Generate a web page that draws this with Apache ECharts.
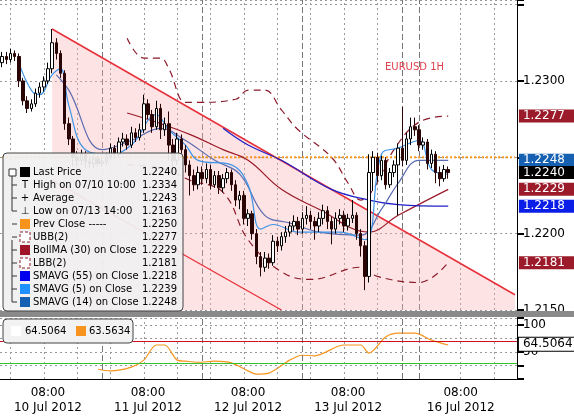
<!DOCTYPE html>
<html>
<head>
<meta charset="utf-8">
<script src="https://cdn.jsdelivr.net/npm/echarts@6/dist/echarts.min.js"></script>
<style>
  html, body { margin: 0; padding: 0; background: #fff; }
  #main { width: 574px; height: 420px; }
</style>
</head>
<body>
<div id="main"></div>
<script>
// hourly EURUSD candles [open, close, low, high]
const candles = [
  [1.2312,1.2316,1.2309,1.2319],[1.2316,1.2314,1.2311,1.2319],[1.2314,1.2318,1.2312,1.2321],[1.2318,1.2316,1.2313,1.2320],
  [1.2316,1.2300,1.2296,1.2318],[1.2300,1.2287,1.2284,1.2302],[1.2287,1.2282,1.2279,1.2290],[1.2282,1.2285,1.2280,1.2288],
  [1.2285,1.2292,1.2283,1.2295],[1.2292,1.2296,1.2289,1.2299],[1.2296,1.2300,1.2293,1.2303],[1.2300,1.2308,1.2298,1.2312],
  [1.2308,1.2325,1.2305,1.2334],[1.2325,1.2318,1.2314,1.2328],[1.2318,1.2305,1.2302,1.2320],[1.2305,1.2272,1.2268,1.2307],
  [1.2272,1.2262,1.2258,1.2276],[1.2262,1.2250,1.2244,1.2264],[1.2250,1.2248,1.2244,1.2254],[1.2248,1.2252,1.2245,1.2255],
  [1.2252,1.2247,1.2243,1.2254],[1.2247,1.2246,1.2243,1.2250],[1.2246,1.2249,1.2243,1.2252],[1.2249,1.2246,1.2244,1.2251],
  [1.2246,1.2247,1.2244,1.2250],[1.2247,1.2250,1.2245,1.2253],[1.2250,1.2256,1.2248,1.2259],[1.2256,1.2252,1.2249,1.2258],
  [1.2252,1.2260,1.2250,1.2263],[1.2260,1.2262,1.2257,1.2266],[1.2262,1.2258,1.2255,1.2265],[1.2258,1.2266,1.2256,1.2270],
  [1.2266,1.2263,1.2260,1.2269],[1.2263,1.2268,1.2261,1.2272],[1.2268,1.2285,1.2266,1.2291],[1.2285,1.2278,1.2275,1.2288],
  [1.2278,1.2270,1.2266,1.2281],[1.2270,1.2282,1.2268,1.2287],[1.2282,1.2268,1.2262,1.2285],[1.2268,1.2272,1.2264,1.2276],
  [1.2272,1.2258,1.2248,1.2280],[1.2258,1.2248,1.2240,1.2262],[1.2248,1.2262,1.2245,1.2266],[1.2262,1.2255,1.2250,1.2265],
  [1.2255,1.2245,1.2240,1.2258],[1.2245,1.2238,1.2225,1.2248],[1.2238,1.2232,1.2228,1.2242],[1.2232,1.2240,1.2229,1.2244],
  [1.2240,1.2236,1.2232,1.2244],[1.2236,1.2242,1.2233,1.2246],[1.2242,1.2232,1.2229,1.2245],[1.2232,1.2238,1.2230,1.2241],
  [1.2238,1.2230,1.2226,1.2241],[1.2230,1.2236,1.2227,1.2239],[1.2236,1.2240,1.2233,1.2243],[1.2240,1.2232,1.2228,1.2242],
  [1.2232,1.2222,1.2218,1.2235],[1.2222,1.2225,1.2216,1.2228],[1.2225,1.2210,1.2206,1.2228],[1.2210,1.2213,1.2205,1.2216],
  [1.2213,1.2200,1.2196,1.2215],[1.2200,1.2185,1.2180,1.2203],[1.2185,1.2178,1.2172,1.2188],[1.2178,1.2184,1.2175,1.2188],
  [1.2184,1.2181,1.2177,1.2187],[1.2181,1.2195,1.2179,1.2199],[1.2195,1.2192,1.2188,1.2198],[1.2192,1.2198,1.2189,1.2201],
  [1.2198,1.2201,1.2194,1.2205],[1.2201,1.2205,1.2198,1.2208],[1.2205,1.2208,1.2202,1.2212],[1.2208,1.2203,1.2199,1.2211],
  [1.2203,1.2210,1.2200,1.2214],[1.2210,1.2212,1.2206,1.2218],[1.2212,1.2208,1.2203,1.2215],[1.2208,1.2205,1.2196,1.2211],
  [1.2205,1.2210,1.2201,1.2214],[1.2210,1.2215,1.2206,1.2219],[1.2215,1.2208,1.2203,1.2218],[1.2208,1.2203,1.2193,1.2211],
  [1.2203,1.2210,1.2200,1.2214],[1.2210,1.2212,1.2206,1.2216],[1.2212,1.2205,1.2201,1.2215],[1.2205,1.2210,1.2202,1.2213],
  [1.2210,1.2212,1.2207,1.2222],[1.2212,1.2200,1.2196,1.2214],[1.2200,1.2192,1.2185,1.2203],[1.2192,1.2172,1.2163,1.2195],
  [1.2172,1.2240,1.2168,1.2252],[1.2240,1.2250,1.2228,1.2254],[1.2250,1.2238,1.2234,1.2253],[1.2238,1.2248,1.2235,1.2251],
  [1.2248,1.2232,1.2229,1.2250],[1.2232,1.2240,1.2230,1.2243],[1.2240,1.2245,1.2237,1.2248],[1.2245,1.2256,1.2212,1.2259],
  [1.2256,1.2248,1.2244,1.2283],[1.2248,1.2262,1.2245,1.2266],[1.2262,1.2270,1.2258,1.2276],[1.2270,1.2268,1.2264,1.2276],
  [1.2268,1.2258,1.2254,1.2271],[1.2258,1.2260,1.2255,1.2263],[1.2260,1.2246,1.2242,1.2262],[1.2246,1.2252,1.2243,1.2255],
  [1.2252,1.2240,1.2233,1.2254],[1.2240,1.2236,1.2231,1.2244],[1.2236,1.2242,1.2234,1.2245],[1.2242,1.2240,1.2236,1.2244]
];
const slotCount = 124;
const categories = Array.from({ length: slotCount }, (_, i) => String(i));

// indicators as [slot, value]
const sma5 = [[4,1.2312],[7,1.2294],[9,1.2291],[12,1.2304],[14,1.2308],[16,1.2284],[20,1.2255],[26,1.2252],[31,1.2258],
  [37,1.2278],[40,1.2268],[44,1.2258],[47,1.2248],[55,1.2245],[59,1.2232],[62,1.2203],[65,1.2206],[71,1.2201],[81,1.2201],
  [87,1.2196],[91,1.2252],[95,1.2256],[100,1.2261],[103,1.2242],[107,1.2239]];
const sma14 = [[13,1.2304],[16,1.2294],[24,1.2255],[31,1.2261],[38,1.2269],[44,1.2261],[51,1.2248],[57,1.2239],[63,1.2212],
  [69,1.2207],[76,1.2201],[86,1.2199],[91,1.2216],[95,1.2233],[100,1.2248],[107,1.2248]];
const sma55 = [[53,1.2269],[59,1.2258],[67,1.2248],[79,1.2229],[88,1.2222],[95,1.2219],[107,1.2218]];
const bollMA = [[30,1.2279],[37,1.2273],[45,1.2265],[53,1.2255],[59,1.2248],[67,1.2229],[76,1.2216],[88,1.2201],[95,1.2212],[107,1.2229]];
const ubb = [[30,1.2328],[34,1.2315],[38,1.2315],[40,1.2308],[44,1.2286],[47,1.2286],[56,1.2288],[59,1.2294],[63,1.2294],
  [67,1.2281],[71,1.2268],[79,1.2250],[83,1.2233],[86,1.2222],[89,1.2229],[94,1.2255],[100,1.2273],[107,1.2277]];
const lbb = [[30,1.2245],[38,1.2243],[45,1.2235],[53,1.2227],[59,1.2196],[67,1.2175],[74,1.2170],[86,1.2178],[90,1.2172],
  [100,1.2168],[107,1.2181]];
const channelUpper = [[12,1.2334],[123,1.2160]];
const channelLower = [[12,1.2235],[67,1.2150]];
const rsi = [[23,18],[26,15],[31,22],[34,35],[37,63],[39,63],[42,35],[44,33],[47,31],[51,33],[55,30],[59,15],[61,9],[64,11],
  [69,35],[72,44],[75,43],[82,63],[86,63],[88,48],[92,78],[95,85],[99,85],[103,72],[107,63]];
const prevClose = 1.2250;
const tags = [
  { v: 1.2277, bg: '#9b1b2a', fg: '#fff' },
  { v: 1.2248, bg: '#1560b0', fg: '#fff' },
  { v: 1.2240, bg: '#000', fg: '#fff' },
  { v: 1.2229, bg: '#9b1b2a', fg: '#fff' },
  { v: 1.2218, bg: '#0a1ee8', fg: '#fff' },
  { v: 1.2181, bg: '#9b1b2a', fg: '#fff' }
];
const rsiTag = 64.5064;
const priceLabels = ['1.2300', '1.2200', '1.2150'];
const dateLabelSlots = [11, 35, 59, 83, 110];
const dateLabels = ['08:00\n10 Jul 2012', '08:00\n11 Jul 2012', '08:00\n12 Jul 2012', '08:00\n13 Jul 2012', '08:00\n16 Jul 2012'];
const daySlots = [24, 48, 72, 96, 100];
const gridSlots = [2, 10, 18, 26, 34, 42, 50, 58, 66, 74, 82, 90, 110, 118];
const legendRows = [
  ['Last Price', '1.2240'], ['High on 07/10 10:00', '1.2334'], ['Average', '1.2243'], ['Low on 07/13 14:00', '1.2163'],
  ['Prev Close -----', '1.2250'], ['UBB(2)', '1.2277'], ['BollMA (30) on Close', '1.2229'], ['LBB(2)', '1.2181'],
  ['SMAVG (55) on Close', '1.2218'], ['SMAVG (5) on Close', '1.2239'], ['SMAVG (14) on Close', '1.2248']
];
const legendColors = ['#000', null, null, null, '#f7941d', 'dash', '#a0142a', 'dash', '#0000ee', '#1e90ff', '#1560b0'];

const FONT = 'DejaVu Sans';
const chart = echarts.init(document.getElementById('main'));

const vLines = gridSlots.map(s => ({ xAxis: String(s), lineStyle: { color: '#999', type: [2, 3], width: 1 } }))
  .concat(daySlots.map(s => ({ xAxis: String(s), lineStyle: { color: '#777', type: [6, 3], width: 1 } })));

function ind(name, data, color, dashed) {
  return {
    name, type: 'line', data, smooth: 0.4, showSymbol: false, silent: true, z: 3,
    lineStyle: { color, width: 1.2, type: dashed ? [7, 5] : 'solid' }
  };
}

// right-edge value tag drawn as end label of an invisible line at the last slot
function tagSeries(v, bg, fg, axisIdx, border) {
  return {
    type: 'line', xAxisIndex: axisIdx, yAxisIndex: axisIdx, data: [[slotCount - 1, v]], showSymbol: false, silent: true,
    z: 20, lineStyle: { opacity: 0 },
    endLabel: { show: true, distance: 4, formatter: axisIdx ? v.toFixed(4) : v.toFixed(4), color: fg, backgroundColor: bg,
      fontSize: 12, fontFamily: FONT, padding: [1, 14, 0, 4], borderColor: border || bg, borderWidth: border ? 1 : 0 }
  };
}

const legendGraphics = [
  { type: 'rect', shape: { x: 3, y: 153, width: 180, height: 158, r: 4 },
    style: { fill: 'rgba(240,240,240,0.93)', stroke: '#444', lineWidth: 1 }, z: 100 },
  { type: 'line', shape: { x1: 12, y1: 176, x2: 12, y2: 211 }, style: { stroke: '#333' }, z: 101 },
  { type: 'line', shape: { x1: 12, y1: 240, x2: 12, y2: 302 }, style: { stroke: '#333' }, z: 101 },
  { type: 'rect', shape: { x: 9, y: 169, width: 7, height: 7 }, style: { fill: '#fff', stroke: '#333' }, z: 102 }
];
legendRows.forEach((r, i) => {
  const y = 172 + i * 13;
  const c = legendColors[i];
  if (c === 'dash') {
    legendGraphics.push({ type: 'rect', shape: { x: 20, y: y - 5, width: 10, height: 10 },
      style: { fill: '#fff', stroke: '#8b1a2a', lineDash: [3, 2] }, z: 101 });
  } else if (c) {
    legendGraphics.push({ type: 'rect', shape: { x: 20, y: y - 5, width: 10, height: 10 }, style: { fill: c }, z: 101 });
  } else {
    legendGraphics.push({ type: 'text', x: 25, y: y, style: { text: ['T', '+', '⊥'][i - 1], font: '10px ' + FONT,
      fill: '#000', align: 'center', verticalAlign: 'middle' }, z: 101 });
  }
  if (i > 0) legendGraphics.push({ type: 'line', shape: { x1: 12, y1: y, x2: 17, y2: y }, style: { stroke: '#333' }, z: 101 });
  legendGraphics.push({ type: 'text', x: 33, y: y, style: { text: r[0], font: '10px ' + FONT, fill: '#000', verticalAlign: 'middle' }, z: 101 });
  legendGraphics.push({ type: 'text', x: 177, y: y, style: { text: r[1], font: '10px ' + FONT, fill: '#000',
    align: 'right', verticalAlign: 'middle' }, z: 101 });
});
legendGraphics.push(
  { type: 'rect', shape: { x: 3, y: 319, width: 130, height: 24, r: 4 }, style: { fill: '#f2f2f2', stroke: '#444' }, z: 100 },
  { type: 'rect', shape: { x: 11, y: 326, width: 10, height: 10 }, style: { fill: '#fff' }, z: 101 },
  { type: 'text', x: 25, y: 331, style: { text: '64.5064', font: '10px ' + FONT, fill: '#000', verticalAlign: 'middle' }, z: 101 },
  { type: 'rect', shape: { x: 76, y: 326, width: 10, height: 10 }, style: { fill: '#f7941d' }, z: 101 },
  { type: 'text', x: 89, y: 331, style: { text: '63.5634', font: '10px ' + FONT, fill: '#000', verticalAlign: 'middle' }, z: 101 },
  { type: 'rect', shape: { x: 0, y: 311, width: 574, height: 6 }, style: { fill: '#8a8a8a' }, z: 50 },
  { type: 'text', x: 385, y: 62, style: { text: 'EURUSD 1H', font: '10px ' + FONT, fill: '#e0404f' }, z: 20 }
);

chart.setOption({
  animation: false,
  backgroundColor: '#fff',
  textStyle: { fontFamily: FONT },
  graphic: legendGraphics,
  grid: [
    { left: 0, top: 0, width: 517, height: 310 },
    { left: 0, top: 318, width: 517, height: 61 }
  ],
  xAxis: [
    { type: 'category', gridIndex: 0, data: categories, boundaryGap: true, show: false },
    { type: 'category', gridIndex: 1, data: categories, boundaryGap: true, position: 'bottom',
      axisLine: { lineStyle: { color: '#000' } },
      axisTick: { alignWithLabel: true, length: 40, interval: i => daySlots.includes(i), lineStyle: { color: '#000' } },
      axisLabel: { interval: i => dateLabelSlots.includes(i), color: '#000', fontSize: 12, lineHeight: 15, margin: 6,
        formatter: (v, i) => dateLabels[dateLabelSlots.indexOf(i)] || '' } },
    { type: 'category', gridIndex: 1, data: categories, boundaryGap: true, position: 'bottom',
      axisLine: { show: false }, axisLabel: { show: false },
      axisTick: { alignWithLabel: true, length: 5, interval: i => i % 4 === 2, lineStyle: { color: '#000' } } }
  ],
  yAxis: [
    { type: 'value', gridIndex: 0, position: 'right', min: 1.2150, max: 1.2353, interval: 0.005,
      axisLine: { show: true, lineStyle: { color: '#000' } },
      axisTick: { show: true, length: 7, lineStyle: { color: '#000', width: 2 } },
      splitLine: { lineStyle: { color: '#999', type: [2, 3] } },
      axisLabel: { color: '#000', fontSize: 12, margin: 6,
        formatter: v => { const s = v.toFixed(4); return priceLabels.includes(s) ? s : ''; } } },
    { type: 'value', gridIndex: 1, position: 'right', min: 0, max: 113, interval: 25,
      axisLine: { show: true, lineStyle: { color: '#000' } },
      axisTick: { show: true, length: 7, lineStyle: { color: '#000', width: 2 } },
      splitLine: { lineStyle: { color: '#999', type: [2, 3] } },
      axisLabel: { color: '#000', fontSize: 12, margin: 6, formatter: v => (v === 100 || v === 50) ? String(v) : '' } }
  ],
  series: [
    { name: 'channel', type: 'line', data: channelUpper, showSymbol: false, silent: true, z: 1,
      lineStyle: { color: '#e8303a', width: 1.5 }, areaStyle: { origin: 'start', color: 'rgba(250,175,175,0.5)' } },
    { name: 'channelLow', type: 'line', data: channelLower, showSymbol: false, silent: true, z: 1,
      lineStyle: { color: '#e8303a', width: 1.3 } },
    { name: 'Prev Close', type: 'line', data: [[0, prevClose], [slotCount - 1, prevClose]], showSymbol: false, silent: true, z: 2,
      lineStyle: { color: '#f7941d', type: [2, 2], width: 2 } },
    ind('UBB(2)', ubb, '#8b1a2a', true),
    ind('LBB(2)', lbb, '#8b1a2a', true),
    ind('BollMA', bollMA, '#9b1b2a', false),
    ind('SMAVG55', sma55, '#2020c8', false),
    ind('SMAVG14', sma14, '#5a6cb0', false),
    ind('SMAVG5', sma5, '#3d95e8', false),
    { name: 'Last Price', type: 'candlestick', data: candles, barWidth: 3, z: 4,
      itemStyle: { color: '#fff', color0: '#2a0505', borderColor: '#000', borderColor0: '#2a0505', borderWidth: 1 },
      markLine: { symbol: 'none', silent: true, z: 0, label: { show: false }, data: vLines } },
    { name: 'RSI', type: 'line', xAxisIndex: 1, yAxisIndex: 1, data: rsi, smooth: 0.3, showSymbol: false, silent: true,
      lineStyle: { color: '#f7941d', width: 1.2 },
      markLine: { symbol: 'none', silent: true, label: { show: false },
        data: vLines.concat([
          { yAxis: 70, lineStyle: { color: '#d01020', type: 'solid', width: 1 } },
          { yAxis: 30, lineStyle: { color: '#30c030', type: 'solid', width: 1 } }
        ]) } }
  ].concat(tags.map(t => tagSeries(t.v, t.bg, t.fg, 0)), [tagSeries(rsiTag, '#fff', '#000', 1, '#000')])
});
</script>
</body>
</html>
